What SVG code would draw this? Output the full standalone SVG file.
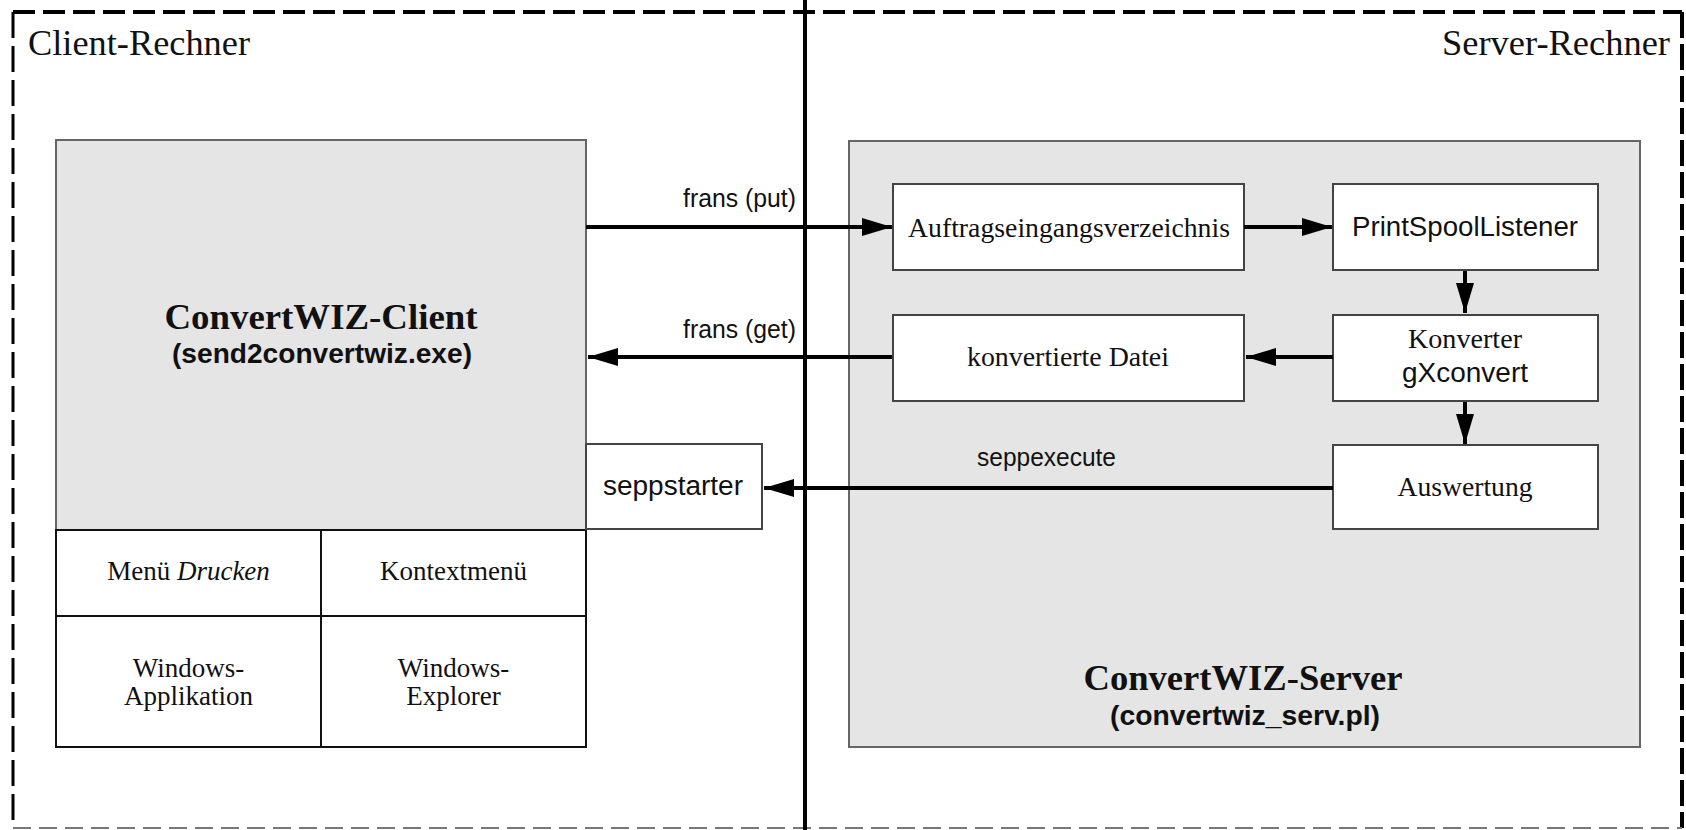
<svg xmlns="http://www.w3.org/2000/svg" width="1686" height="830" viewBox="0 0 1686 830">
<style>
.serif{font-family:"Liberation Serif","Times New Roman",serif;fill:#111;}
.sans{font-family:"Liberation Sans",Arial,sans-serif;fill:#111;}
.box{fill:#fff;stroke:#444;stroke-width:2;}
.gray{fill:#e5e5e5;stroke:#666;stroke-width:2;}
.conn{stroke:#000;stroke-width:4;fill:none;}
.cell{fill:#fff;stroke:#111;stroke-width:2;}
</style>
<defs>
<marker id="arr" markerUnits="userSpaceOnUse" markerWidth="30" markerHeight="20" viewBox="0 0 30 20" refX="30" refY="10" orient="auto">
<path d="M0,1 L30,10 L0,19 z" fill="#000"/>
</marker>
</defs>
<rect width="1686" height="830" fill="#fff"/>
<g id="frame">
<line x1="13" y1="12" x2="1682" y2="12" stroke="#000" stroke-width="4" stroke-dasharray="22 8"/>
<line x1="13" y1="12" x2="13" y2="828" stroke="#000" stroke-width="3" stroke-dasharray="26 8"/>
<line x1="1682" y1="12" x2="1682" y2="828" stroke="#000" stroke-width="4" stroke-dasharray="26 6"/>
<line x1="13" y1="828" x2="1682" y2="828" stroke="#777" stroke-width="2" stroke-dasharray="18 8"/>
<line x1="805" y1="0" x2="805" y2="830" stroke="#000" stroke-width="4"/>
<text class="serif" x="28" y="55" font-size="35" textLength="222" lengthAdjust="spacingAndGlyphs">Client-Rechner</text>
<text class="serif" x="1670" y="55" font-size="35" text-anchor="end" textLength="228" lengthAdjust="spacingAndGlyphs">Server-Rechner</text>
</g>
<g id="client">
<rect class="gray" x="56" y="140" width="530" height="390"/>
<text class="serif" x="321" y="329" font-size="36" font-weight="bold" text-anchor="middle" textLength="313" lengthAdjust="spacingAndGlyphs">ConvertWIZ-Client</text>
<text class="sans" x="322" y="363" font-size="27" font-weight="bold" text-anchor="middle" textLength="300" lengthAdjust="spacingAndGlyphs">(send2convertwiz.exe)</text>
</g>
<g id="menu-drucken">
<rect class="cell" x="56" y="530" width="265" height="86"/>
<text class="serif" x="188.5" y="580" font-size="27" text-anchor="middle">Menü <tspan font-style="italic">Drucken</tspan></text>
</g>
<g id="kontextmenue">
<rect class="cell" x="321" y="530" width="265" height="86"/>
<text class="serif" x="453.5" y="580" font-size="27" text-anchor="middle">Kontextmenü</text>
</g>
<g id="windows-applikation">
<rect class="cell" x="56" y="616" width="265" height="131"/>
<text class="serif" x="188.5" y="677" font-size="27" text-anchor="middle">Windows-</text>
<text class="serif" x="188.5" y="705" font-size="27" text-anchor="middle">Applikation</text>
</g>
<g id="windows-explorer">
<rect class="cell" x="321" y="616" width="265" height="131"/>
<text class="serif" x="453.5" y="677" font-size="27" text-anchor="middle">Windows-</text>
<text class="serif" x="453.5" y="705" font-size="27" text-anchor="middle">Explorer</text>
</g>
<g id="seppstarter">
<rect class="box" x="586" y="444" width="176" height="85"/>
<text class="sans" x="673" y="495" font-size="27" text-anchor="middle" textLength="140" lengthAdjust="spacingAndGlyphs">seppstarter</text>
</g>
<g id="server">
<rect class="gray" x="849" y="141" width="791" height="606"/>
<text class="serif" x="1243" y="690" font-size="36" font-weight="bold" text-anchor="middle" textLength="319" lengthAdjust="spacingAndGlyphs">ConvertWIZ-Server</text>
<text class="sans" x="1245" y="725" font-size="27" font-weight="bold" text-anchor="middle" textLength="270" lengthAdjust="spacingAndGlyphs">(convertwiz_serv.pl)</text>
</g>
<g id="auftragseingangsverzeichnis">
<rect class="box" x="893" y="184" width="351" height="86"/>
<text class="serif" x="1069" y="237" font-size="27" text-anchor="middle" textLength="322" lengthAdjust="spacingAndGlyphs">Auftragseingangsverzeichnis</text>
</g>
<g id="printspoollistener">
<rect class="box" x="1333" y="184" width="265" height="86"/>
<text class="sans" x="1465" y="236" font-size="27" text-anchor="middle" textLength="226" lengthAdjust="spacingAndGlyphs">PrintSpoolListener</text>
</g>
<g id="konvertierte-datei">
<rect class="box" x="893" y="315" width="351" height="86"/>
<text class="serif" x="1068" y="366" font-size="27" text-anchor="middle" textLength="202" lengthAdjust="spacingAndGlyphs">konvertierte Datei</text>
</g>
<g id="konverter">
<rect class="box" x="1333" y="315" width="265" height="86"/>
<text class="serif" x="1465" y="348" font-size="27" text-anchor="middle" textLength="114" lengthAdjust="spacingAndGlyphs">Konverter</text>
<text class="sans" x="1465" y="382" font-size="27" text-anchor="middle" textLength="126" lengthAdjust="spacingAndGlyphs">gXconvert</text>
</g>
<g id="auswertung">
<rect class="box" x="1333" y="445" width="265" height="84"/>
<text class="serif" x="1465" y="496" font-size="27" text-anchor="middle" textLength="135" lengthAdjust="spacingAndGlyphs">Auswertung</text>
</g>
<g id="connectors">
<line class="conn" x1="586" y1="227" x2="892" y2="227" marker-end="url(#arr)"/>
<line class="conn" x1="1244" y1="227" x2="1332" y2="227" marker-end="url(#arr)"/>
<line class="conn" x1="1465" y1="271" x2="1465" y2="313" marker-end="url(#arr)"/>
<line class="conn" x1="1333" y1="357" x2="1246" y2="357" marker-end="url(#arr)"/>
<line class="conn" x1="1465" y1="402" x2="1465" y2="444" marker-end="url(#arr)"/>
<line class="conn" x1="892" y1="357" x2="588" y2="357" marker-end="url(#arr)"/>
<line class="conn" x1="1333" y1="488" x2="764" y2="488" marker-end="url(#arr)"/>
<text class="sans" x="796" y="207" font-size="26" text-anchor="end" textLength="113" lengthAdjust="spacingAndGlyphs">frans (put)</text>
<text class="sans" x="796" y="338" font-size="26" text-anchor="end" textLength="113" lengthAdjust="spacingAndGlyphs">frans (get)</text>
<text class="sans" x="977" y="466" font-size="26" textLength="139" lengthAdjust="spacingAndGlyphs">seppexecute</text>
</g>
</svg>
